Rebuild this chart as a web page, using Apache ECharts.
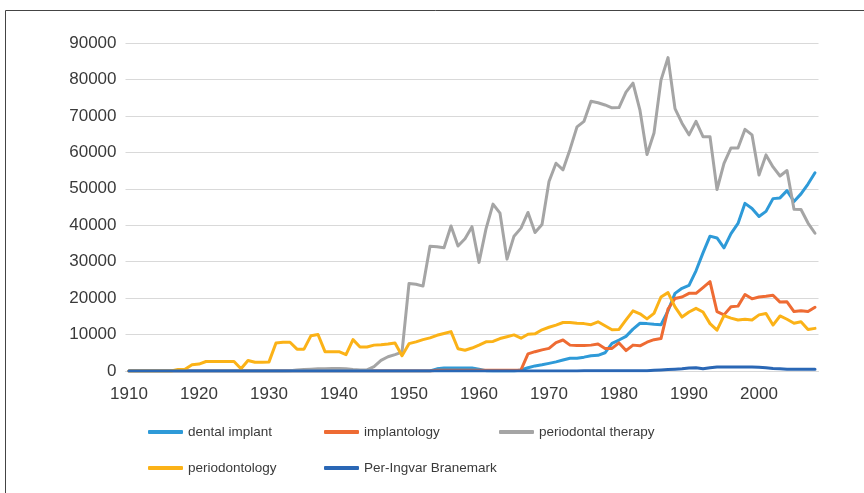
<!DOCTYPE html>
<html>
<head>
<meta charset="utf-8">
<script src="https://cdn.jsdelivr.net/npm/echarts@6/dist/echarts.min.js"></script>
<style>
  html, body { margin: 0; padding: 0; background: #fff; }
  #charts { width: 864px; height: 493px; }
</style>
</head>
<body>
<div id="charts"></div>
<script>
var years = [
    '1910','1911','1912','1913','1914','1915','1916','1917','1918','1919',
    '1920','1921','1922','1923','1924','1925','1926','1927','1928','1929',
    '1930','1931','1932','1933','1934','1935','1936','1937','1938','1939',
    '1940','1941','1942','1943','1944','1945','1946','1947','1948','1949',
    '1950','1951','1952','1953','1954','1955','1956','1957','1958','1959',
    '1960','1961','1962','1963','1964','1965','1966','1967','1968','1969',
    '1970','1971','1972','1973','1974','1975','1976','1977','1978','1979',
    '1980','1981','1982','1983','1984','1985','1986','1987','1988','1989',
    '1990','1991','1992','1993','1994','1995','1996','1997','1998','1999',
    '2000','2001','2002','2003','2004','2005','2006','2007','2008'
];

var dentalImplant = [
    0,0,0,0,0,0,0,0,0,0,
    0,0,0,0,0,0,0,0,0,0,
    0,0,0,0,0,0,0,0,0,0,
    0,0,0,0,0,0,0,0,0,0,
    0,0,0,0,600,800,800,800,800,800,
    500,100,0,0,0,0,300,900,1400,1700,
    2100,2500,3000,3500,3500,3800,4200,4300,5000,7600,
    8500,9500,11500,13100,13000,12800,12700,16500,21300,22700,
    23500,27500,32400,37000,36500,33800,37700,40500,46000,44600,
    42400,43800,47300,47500,49500,46500,48600,51300,54400
];

var implantology = [
    0,0,0,0,0,0,0,0,0,0,
    0,0,0,0,0,0,0,0,0,0,
    0,0,0,0,0,0,0,0,0,0,
    0,0,0,0,0,0,0,0,0,0,
    0,0,0,0,200,200,200,200,200,200,
    200,200,200,200,200,200,300,4700,5300,5800,
    6200,7800,8500,7100,7000,7000,7100,7400,6200,6200,
    7700,5600,7100,6900,7900,8600,8900,17000,19900,20300,
    21300,21300,22900,24500,16300,15400,17600,17800,21000,19800,
    20300,20500,20800,18900,19000,16300,16500,16300,17500
];

var periodontalTherapy = [
    0,0,0,0,0,0,0,0,0,0,
    0,0,0,0,0,0,0,0,0,0,
    0,0,0,100,300,400,500,600,600,700,
    700,600,400,300,300,1200,2900,3900,4500,5200,
    24000,23800,23300,34200,34100,33800,39800,34300,36300,39600,
    29800,39000,45800,43300,30700,37000,39200,43500,38000,40200,
    52000,57000,55200,60800,67000,68500,74000,73600,73000,72200,
    72300,76500,79000,71500,59400,65300,79800,86000,72000,68000,
    64800,68500,64300,64300,49800,57000,61200,61200,66300,64800,
    53800,59300,56000,53500,55000,44400,44300,40600,37800
];

var periodontology = [
    0,0,0,0,0,0,0,400,500,1700,
    1900,2600,2600,2600,2600,2600,600,2900,2400,2400,
    2500,7700,7900,7900,6000,6000,9700,10000,5300,5300,
    5300,4500,8600,6600,6600,7100,7200,7400,7700,4200,
    7500,8000,8600,9100,9800,10300,10800,6100,5700,6300,
    7100,8000,8100,8900,9400,9900,9000,10100,10200,11300,
    12000,12600,13300,13300,13100,13000,12700,13500,12400,11300,
    11400,14000,16500,15700,14300,15800,20300,21500,17600,14800,
    16200,17200,16200,13000,11200,15200,14500,14000,14200,14000,
    15400,15800,12600,15100,14200,13100,13500,11400,11700
];

var branemark = [
    0,0,0,0,0,0,0,0,0,0,
    0,0,0,0,0,0,0,0,0,0,
    0,0,0,0,0,0,0,0,0,0,
    0,0,0,0,0,0,0,0,0,0,
    0,0,0,0,0,0,0,0,0,0,
    0,0,0,0,0,0,0,0,0,0,
    0,0,0,0,0,100,100,100,100,100,
    100,100,100,100,100,200,300,400,500,600,
    800,900,600,900,1100,1100,1100,1100,1100,1100,
    1000,900,700,600,500,500,500,500,500
];

var names = ['dental implant', 'implantology', 'periodontal therapy', 'periodontology', 'Per-Ingvar Branemark'];
var colors = ['#2E9AD8', '#EE6B33', '#A5A5A5', '#FBB217', '#2A67B5'];
var values = [dentalImplant, implantology, periodontalTherapy, periodontology, branemark];

var textColor = '#3a3a3a';
var font = "'Liberation Sans', Arial, sans-serif";

// legend laid out as a 3 + 2 grid like the source
var legendPos = [[148, 425], [324, 425], [499, 425], [148, 461], [324, 461]];

var myChart = echarts.init(document.getElementById('charts'));
var option = {
    animation: false,
    backgroundColor: '#fff',
    color: colors,
    graphic: [{
        type: 'rect',
        shape: { x: 5.5, y: 10.5, width: 900, height: 600 },
        style: { fill: 'none', stroke: '#444', lineWidth: 1 },
        silent: true
    }],
    legend: names.map(function (n, i) {
        return {
            data: [n],
            left: legendPos[i][0],
            top: legendPos[i][1],
            icon: 'roundRect',
            itemWidth: 35,
            itemHeight: 4,
            padding: 0,
            textStyle: { color: textColor, fontSize: 13.5, fontFamily: font }
        };
    }),
    grid: {
        left: 125.5,
        right: 45.5,
        top: 43,
        bottom: 122,
        containLabel: false
    },
    xAxis: {
        type: 'category',
        data: years,
        boundaryGap: true,
        axisLine: { show: true, lineStyle: { color: '#d9d9d9' } },
        axisTick: { show: false },
        axisLabel: {
            interval: 9,
            margin: 15,
            color: textColor,
            fontSize: 17,
            fontFamily: font
        },
        splitLine: { show: false }
    },
    yAxis: {
        type: 'value',
        min: 0,
        max: 90000,
        interval: 10000,
        axisLine: { show: false },
        axisTick: { show: false },
        axisLabel: {
            margin: 9,
            color: textColor,
            fontSize: 17,
            fontFamily: font,
            formatter: function (v) { return String(v); }
        },
        splitLine: { lineStyle: { color: '#d9d9d9', width: 1 } }
    },
    series: names.map(function (n, i) {
        return {
            name: n,
            type: 'line',
            data: values[i],
            symbol: 'none',
            lineStyle: { width: 3, cap: 'round', join: 'round' }
        };
    })
};

myChart.setOption(option);
</script>
</body>
</html>
